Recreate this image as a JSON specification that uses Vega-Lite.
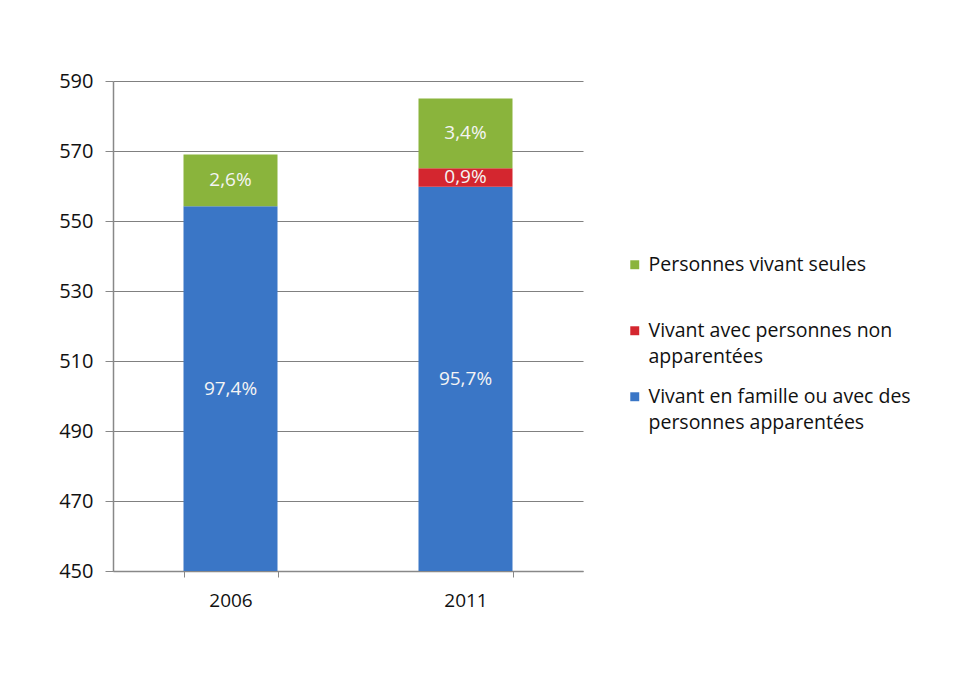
{
  "$schema": "https://vega.github.io/schema/vega-lite/v6.json",
  "width": 470,
  "height": 490,
  "autosize": {"type": "none"},
  "padding": {"left": 113, "top": 81, "right": 396, "bottom": 104},
  "background": "white",
  "config": {
    "font": "Open Sans",
    "view": {"stroke": null}
  },
  "data": {
    "values": [
      {"year": "2006", "cat": "Vivant en famille ou avec des personnes apparentées", "value": 554.2, "label": "97,4%", "ord": 1},
      {"year": "2006", "cat": "Personnes vivant seules", "value": 14.8, "label": "2,6%", "ord": 3},
      {"year": "2011", "cat": "Vivant en famille ou avec des personnes apparentées", "value": 559.8, "label": "95,7%", "ord": 1},
      {"year": "2011", "cat": "Vivant avec personnes non apparentées", "value": 5.3, "label": "0,9%", "ord": 2},
      {"year": "2011", "cat": "Personnes vivant seules", "value": 19.9, "label": "3,4%", "ord": 3}
    ]
  },
  "transform": [
    {"stack": "value", "groupby": ["year"], "sort": [{"field": "ord", "order": "ascending"}], "as": ["y0", "y1"]},
    {"calculate": "(max(datum.y0, 450) + datum.y1) / 2", "as": "ymid"}
  ],
  "encoding": {
    "x": {
      "field": "year", "type": "nominal", "title": null,
      "scale": {"paddingInner": 0.6, "paddingOuter": 0.3},
      "axis": {
        "labelAngle": 0, "labelFontSize": 19, "labelColor": "#111", "labelPadding": 14,
        "tickBand": "extent", "tickSize": 6, "tickColor": "#888", "domainColor": "#888", "domainWidth": 1.5
      }
    }
  },
  "layer": [
    {
      "mark": {"type": "bar", "clip": true},
      "encoding": {
        "y": {
          "field": "y1", "type": "quantitative", "title": null,
          "scale": {"domain": [450, 590], "zero": false, "nice": false},
          "axis": {
            "values": [450, 470, 490, 510, 530, 550, 570, 590],
            "labelFontSize": 20, "labelColor": "#111", "labelPadding": 12,
            "tickSize": 8, "tickColor": "#888", "domainColor": "#888", "domainWidth": 1.5,
            "grid": true, "gridColor": "#808080", "gridWidth": 1.2
          }
        },
        "y2": {"field": "y0"},
        "color": {
          "field": "cat", "type": "nominal",
          "scale": {
            "domain": ["Personnes vivant seules", "Vivant avec personnes non apparentées", "Vivant en famille ou avec des personnes apparentées"],
            "range": ["#8ab43c", "#d4262f", "#3a76c6"]
          },
          "legend": {
            "title": null,
            "orient": "none", "legendX": 512, "legendY": 174,
            "labelFontSize": 19.5, "labelColor": "#111", "labelLimit": 400,
            "symbolType": "square", "symbolSize": 80, "symbolStrokeWidth": 0,
            "rowPadding": 19,
            "labelExpr": "datum.label == 'Personnes vivant seules' ? ['Personnes vivant seules', ' '] : datum.label == 'Vivant avec personnes non apparentées' ? ['Vivant avec personnes non', 'apparentées'] : ['Vivant en famille ou avec des', 'personnes apparentées']",
            "encode": {"labels": {"update": {"lineHeight": {"value": 26}}}}
          }
        },
        "order": {"field": "ord"}
      }
    },
    {
      "mark": {"type": "text", "color": "#f4f4f4", "fontSize": 19, "baseline": "middle"},
      "encoding": {
        "y": {"field": "ymid", "type": "quantitative"},
        "text": {"field": "label"}
      }
    }
  ]
}
